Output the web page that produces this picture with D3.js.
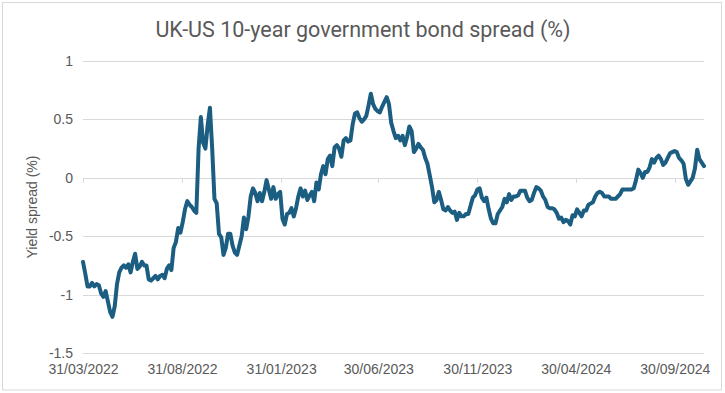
<!DOCTYPE html>
<html lang="en">
<meta charset="utf-8">
<style>
body { margin: 0; background: #fff; }
.grid line { stroke: #d9d9d9; stroke-width: 1px; }
.axis text { font-family: "Liberation Sans", Arial, sans-serif; font-size: 14px; fill: #595959; }
</style>
<script type="text/javascript" src="https://cdn.jsdelivr.net/npm/d3@7/dist/d3.min.js"></script>
<body>
<script type="text/javascript">

// Chart size
var width = 725,
    height = 393;

// Twice-weekly UK-US 10y spread (%), starting 31/03/2022
var startDate = "2022-03-31";
var stepHours = 84; // half a week between readings
var spread = [
  -0.72, -0.82, -0.93, -0.93, -0.90, -0.93, -0.91, -0.92, -0.99, -1.02,
  -0.97, -1.06, -1.15, -1.19, -1.10, -0.91, -0.81, -0.77, -0.75, -0.77,
  -0.74, -0.81, -0.72, -0.65, -0.78, -0.76, -0.72, -0.75, -0.75, -0.87,
  -0.88, -0.86, -0.84, -0.87, -0.84, -0.83, -0.86, -0.78, -0.75, -0.79,
  -0.60, -0.55, -0.43, -0.47, -0.38, -0.27, -0.20, -0.23, -0.25, -0.28,
  -0.30, 0.25, 0.52, 0.30, 0.25, 0.45, 0.60, 0.25, -0.18, -0.22,
  -0.48, -0.51, -0.66, -0.60, -0.48, -0.48, -0.58, -0.64, -0.66, -0.58,
  -0.50, -0.34, -0.44, -0.33, -0.16, -0.09, -0.13, -0.20, -0.13, -0.20,
  -0.12, -0.02, -0.10, -0.18, -0.08, -0.18, -0.14, -0.12, -0.35, -0.40,
  -0.31, -0.30, -0.26, -0.33, -0.26, -0.16, -0.09, -0.16, -0.11, -0.19,
  -0.15, -0.12, -0.20, -0.04, -0.10, 0.03, 0.10, 0.03, 0.16, 0.19,
  0.10, 0.26, 0.28, 0.25, 0.18, 0.32, 0.34, 0.31, 0.32, 0.46,
  0.55, 0.56, 0.51, 0.48, 0.50, 0.53, 0.62, 0.72, 0.63, 0.59,
  0.57, 0.56, 0.61, 0.65, 0.69, 0.63, 0.47, 0.40, 0.34, 0.36,
  0.32, 0.36, 0.28, 0.35, 0.44, 0.40, 0.22, 0.25, 0.29, 0.26,
  0.24, 0.17, 0.12, 0.02, -0.08, -0.21, -0.19, -0.12, -0.19, -0.27,
  -0.28, -0.25, -0.28, -0.30, -0.29, -0.36, -0.30, -0.33, -0.33, -0.31,
  -0.31, -0.24, -0.17, -0.15, -0.10, -0.09, -0.17, -0.20, -0.17, -0.27,
  -0.35, -0.39, -0.39, -0.31, -0.28, -0.25, -0.18, -0.21, -0.14, -0.19,
  -0.16, -0.16, -0.15, -0.11, -0.11, -0.11, -0.17, -0.20, -0.19, -0.13,
  -0.08, -0.09, -0.11, -0.16, -0.19, -0.25, -0.26, -0.26, -0.27, -0.30,
  -0.35, -0.34, -0.38, -0.36, -0.37, -0.40, -0.32, -0.33, -0.27, -0.30,
  -0.33, -0.28, -0.28, -0.23, -0.22, -0.21, -0.16, -0.13, -0.12, -0.13,
  -0.16, -0.16, -0.16, -0.18, -0.18, -0.18, -0.16, -0.14, -0.10, -0.10,
  -0.10, -0.10, -0.10, -0.09, -0.02, 0.07, 0.04, 0.00, 0.05, 0.05,
  0.09, 0.16, 0.13, 0.17, 0.19, 0.16, 0.11, 0.13, 0.17, 0.21,
  0.22, 0.23, 0.22, 0.17, 0.15, 0.12, -0.01, -0.06, -0.03, 0.00,
  0.08, 0.24, 0.16, 0.13, 0.10
];

// Axis ticks
var yTicks = [-1.5, -1, -0.5, 0, 0.5, 1];
var xTickLabels = ["31/03/2022", "31/08/2022", "31/01/2023", "30/06/2023",
                   "30/11/2023", "30/04/2024", "30/09/2024"];

var parseIso = d3.timeParse("%Y-%m-%d");
var parseLabel = d3.timeParse("%d/%m/%Y");
var formatLabel = d3.timeFormat("%d/%m/%Y");

var start = parseIso(startDate);
var data = spread.map(function(v, i) {
  return { date: d3.timeHour.offset(start, i * stepHours), value: v };
});

var svg = d3.select("body")
            .append("svg")
            .attr("width", width)
            .attr("height", height);

// Outer border
svg.append("rect")
    .attr("x", 2.5).attr("y", 2.5)
    .attr("width", 719).attr("height", 387.5)
    .attr("fill", "#fff")
    .attr("stroke", "#d9d9d9");

var x = d3.scaleTime()
    .domain([start, data[data.length - 1].date])
    .range([83, 704]);

var y = d3.scaleLinear()
    .domain([-1.5, 1])
    .range([353, 61]);

// Horizontal gridlines
svg.append("g")
    .attr("class", "grid")
  .selectAll("line")
  .data(yTicks)
  .enter().append("line")
    .attr("x1", 83).attr("x2", 704)
    .attr("y1", function(d) { return Math.round(y(d)) + 0.5; })
    .attr("y2", function(d) { return Math.round(y(d)) + 0.5; });

// Tick marks on the zero line
var xTicks = xTickLabels.map(parseLabel);
svg.append("g")
    .attr("class", "grid")
  .selectAll("line")
  .data(xTicks)
  .enter().append("line")
    .attr("x1", function(d) { return Math.round(x(d)) + 0.5; })
    .attr("x2", function(d) { return Math.round(x(d)) + 0.5; })
    .attr("y1", Math.round(y(0)) + 0.5)
    .attr("y2", Math.round(y(0)) + 5);

// Y axis labels (plain hyphen like the original)
var yAxis = svg.append("g")
    .attr("class", "axis")
    .attr("transform", "translate(73,0)")
    .call(d3.axisLeft(y).tickValues(yTicks).tickSize(0).tickPadding(0)
            .tickFormat(function(d) { return String(d); }));
yAxis.select(".domain").remove();

// X axis labels along the bottom
var xAxis = svg.append("g")
    .attr("class", "axis")
    .attr("transform", "translate(0,364)")
    .call(d3.axisBottom(x).tickValues(xTicks).tickSize(0).tickPadding(0)
            .tickFormat(formatLabel));
xAxis.select(".domain").remove();

// Spread line
var line = d3.line()
    .x(function(d) { return x(d.date); })
    .y(function(d) { return y(d.value); });

svg.append("path")
    .datum(data)
    .attr("fill", "none")
    .attr("stroke", "#1b5e82")
    .attr("stroke-width", 4)
    .attr("stroke-linejoin", "round")
    .attr("stroke-linecap", "round")
    .attr("d", line);

// Title
svg.append("text")
    .attr("x", 363)
    .attr("y", 37)
    .attr("text-anchor", "middle")
    .style("font-family", "Roboto, sans-serif")
    .style("font-size", "21.5px")
    .style("fill", "#595959")
    .text("UK-US 10-year government bond spread (%)");

// Y axis title
svg.append("text")
    .attr("transform", "translate(37,207) rotate(-90)")
    .attr("text-anchor", "middle")
    .style("font-family", "'Liberation Sans', Arial, sans-serif")
    .style("font-size", "14px")
    .style("fill", "#595959")
    .text("Yield spread (%)");

</script>
</body>
</html>
